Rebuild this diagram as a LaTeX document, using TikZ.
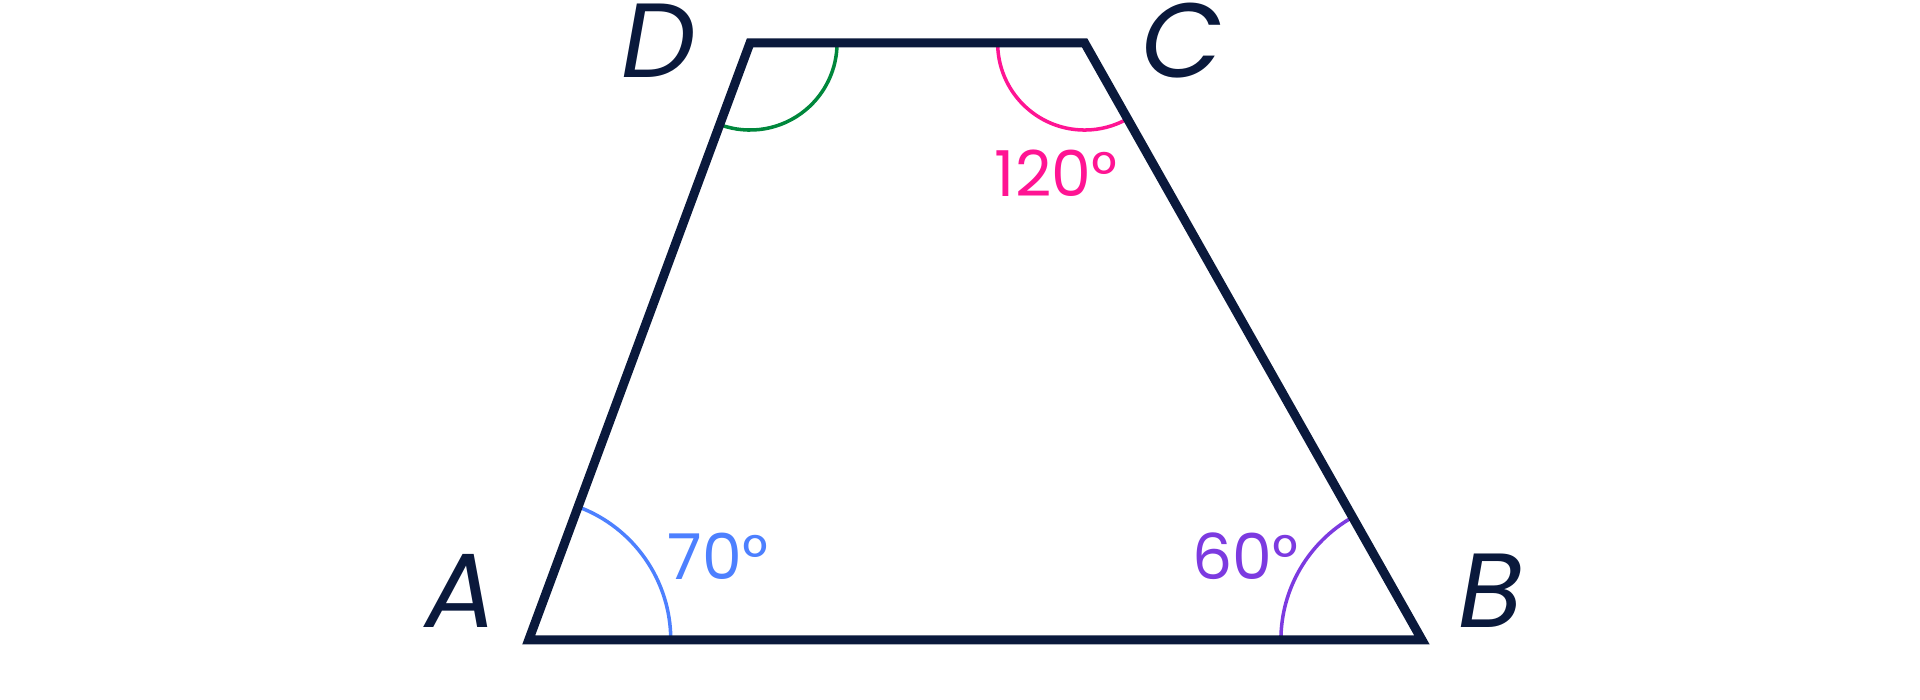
\documentclass[tikz,border=0pt]{standalone}
\usepackage{fontspec}
\setmainfont{Poppins}
\usepackage{tikz}
\usetikzlibrary{calc,angles}

\definecolor{navy}{RGB}{10,25,60}
\definecolor{agreen}{RGB}{0,135,60}
\definecolor{apink}{RGB}{255,20,147}
\definecolor{ablue}{RGB}{77,128,255}
\definecolor{apurple}{RGB}{124,58,224}

\begin{document}
\begin{tikzpicture}[x=0.01cm,y=0.01cm]
		\tikzset{vertex/.style={font=\fontsize{30}{30}\selectfont\itshape,text=navy,anchor=base,inner sep=0pt}};
		\tikzset{deg/.style={font=\fontsize{18}{18}\selectfont,anchor=base,inner sep=0pt}};
		\tikzset{anglearc/.style={draw=#1,line width=1pt}};
		
		\useasboundingbox (0,0) rectangle (1920,700);
		\coordinate (A) at (528.7,60);
		\coordinate (B) at (1422,60);
		\coordinate (C) at (1084.7,657);
		\coordinate (D) at (750,657);
		
		\pic [anglearc=ablue,angle radius=1.42cm] {angle = B--A--D};
		\pic [anglearc=apurple,angle radius=1.41cm] {angle = C--B--A};
		\pic [anglearc=apink,angle radius=0.87cm] {angle = D--C--B};
		\pic [anglearc=agreen,angle radius=0.87cm] {angle = A--D--C};
		
		\draw [navy,line width=2.56pt,line join=miter] (A)--(B)--(C)--(D)--cycle;
		
		\node (la) at (461,72) [vertex]{A};
		\node (lb) at (1491,72) [vertex]{B};
		\node (lc) at (1182,622) [vertex]{C};
		\node (ld) at (659,622) [vertex]{D};
		\node (da) at (718,120) [deg,text=ablue]{70°};
		\node (db) at (1245,120) [deg,text=apurple]{60°};
		\node (dc) at (1056,503) [deg,text=apink]{120°};
		\end{tikzpicture}
\end{document}
